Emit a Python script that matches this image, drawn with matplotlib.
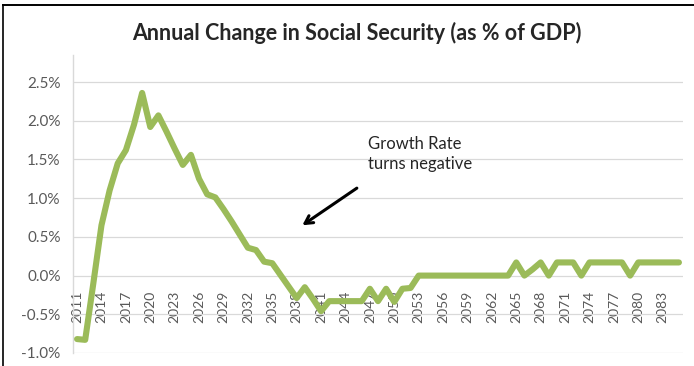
import matplotlib
matplotlib.use("Agg")
import matplotlib.pyplot as plt
from matplotlib.lines import Line2D
import numpy as np

# Annual change in Social Security outlays, percent of GDP
years = list(range(2011, 2086))
change_pct = [
    -0.82, -0.83, -0.10, 0.65, 1.10, 1.45, 1.62, 1.95, 2.36, 1.92,   # 2011-2020
    2.07, 1.86, 1.64, 1.43, 1.56, 1.25, 1.05, 1.01, 0.86, 0.70,     # 2021-2030
    0.53, 0.36, 0.33, 0.18, 0.16, 0.01, -0.14, -0.29, -0.15, -0.30,  # 2031-2040
    -0.46, -0.33, -0.33, -0.33, -0.33, -0.33, -0.17, -0.33, -0.17, -0.34,  # 2041-2050
    -0.17, -0.16, 0.00, 0.00, 0.00, 0.00, 0.00, 0.00, 0.00, 0.00,   # 2051-2060
    0.00, 0.00, 0.00, 0.00, 0.17, 0.00, 0.08, 0.17, 0.00, 0.17,     # 2061-2070
    0.17, 0.17, 0.00, 0.17, 0.17, 0.17, 0.17, 0.17, 0.00, 0.17,     # 2071-2080
    0.17, 0.17, 0.17, 0.17, 0.17,                                   # 2081-2085
]
tick_years = list(range(2011, 2086, 3))
y_ticks = [-1.0, -0.5, 0.0, 0.5, 1.0, 1.5, 2.0, 2.5]

title = "Annual Change in Social Security (as % of GDP)"
note = "Growth Rate\nturns negative"

FONT = "Lato"
GREEN = "#9BBB59"
GRID = "#D9D9D9"
LABEL = "#595959"

fig = plt.figure(figsize=(6.94, 3.66), dpi=100)
fig.patch.set_facecolor("white")

W, H = 694, 366
left, right, bottom, top = 73, 683, 353, 55
ax = fig.add_axes([left / W, (H - bottom) / H, (right - left) / W, (bottom - top) / H])

# category axis crosses at zero; set before the tick labels (it resets ticks)
ax.spines["bottom"].set_position(("data", 0))
ax.spines["bottom"].set_visible(False)
ax.spines["top"].set_visible(False)
ax.spines["right"].set_visible(False)
ax.spines["left"].set_color(GRID)
ax.spines["left"].set_linewidth(1.0)

x = np.arange(len(years))
ax.plot(x, change_pct, color=GREEN, lw=4.4, solid_joinstyle="round",
        solid_capstyle="round", zorder=3)

ax.set_xlim(-0.5, len(years) - 0.5)
ax.set_ylim(-1.0, 2.85)

ax.set_yticks(y_ticks)
ax.set_yticklabels([f"{v:.1f}%" for v in y_ticks], family=FONT, fontsize=11,
                   color=LABEL)
ax.yaxis.grid(True, color=GRID, lw=0.9)
ax.set_axisbelow(True)

tick_idx = [years.index(t) for t in tick_years]
ax.set_xticks(tick_idx)
ax.set_xticklabels([str(t) for t in tick_years], rotation=90, family=FONT,
                   fontsize=10, color=LABEL, va="top", ha="center")
ax.tick_params(axis="x", length=0, pad=11)
ax.tick_params(axis="y", length=0, pad=9)

ax.annotate("", xy=(27.7, 0.65), xytext=(34.4, 1.13),
            arrowprops=dict(arrowstyle="->,head_length=0.55,head_width=0.3",
                            color="black", lw=2.2, shrinkA=0, shrinkB=0))
ax.text(35.8, 1.57, note, family=FONT, fontsize=12, color="#262626",
        ha="left", va="center", linespacing=1.25)

fig.text(357 / W, 1 - 33 / H, title, family=FONT, fontsize=15.5, fontweight="bold",
         color="#262626", ha="center", va="center")

# page border lines along the top and left edges
fig.add_artist(Line2D([3 / W, 1], [1 - 5 / H, 1 - 5 / H], transform=fig.transFigure,
                      color="black", lw=1.4))
fig.add_artist(Line2D([3 / W, 3 / W], [0, 1 - 5 / H], transform=fig.transFigure,
                      color="black", lw=1.2))

fig.savefig("out.png", dpi=100, facecolor="white")
